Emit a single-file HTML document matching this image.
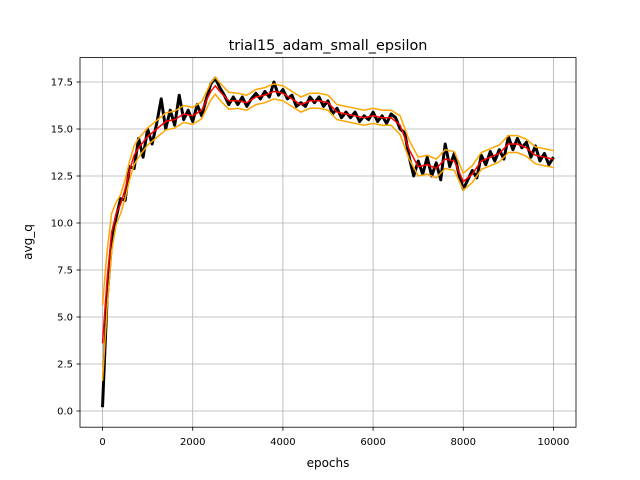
<!DOCTYPE html>
<html><head><meta charset="utf-8"><style>
body{margin:0;background:#fff;}
svg{display:block;font-family:"DejaVu Sans","Liberation Sans",sans-serif;}
</style></head><body>
<svg id="chart" width="640" height="480">
<rect width="640" height="480" fill="#fff"/>
<g id="grid"></g>
<g id="series"></g>
<rect x="80" y="57.6" width="496" height="369.6" fill="none" stroke="#000" stroke-width="0.8"/>
<g id="ticks"></g>
<text x="328" y="50" text-anchor="middle" font-size="14.4">trial15_adam_small_epsilon</text>
<text x="328" y="467" text-anchor="middle" font-size="12">epochs</text>
<text transform="translate(32,242) rotate(-90)" text-anchor="middle" font-size="12">avg_q</text>
</svg>
<script>
const meanEpochs=[0,100,200,300,400,500,600,700,800,1000,1200,1400,1600,1800,2000,2200,2400,2500,2600,2800,3000,3200,3400,3600,3800,4000,4200,4400,4600,4800,5000,5200,5400,5600,5800,6000,6200,6400,6600,6800,7000,7200,7400,7600,7800,8000,8200,8400,8600,8800,9000,9200,9400,9600,9800,10000];
const meanValues=[3.6,7,9.5,10.5,11,11.8,12.8,13.6,14,14.6,15,15.4,15.5,15.8,15.7,16,17,17.3,17,16.5,16.5,16.4,16.7,16.8,17,16.9,16.6,16.3,16.5,16.5,16.4,15.9,15.8,15.7,15.6,15.7,15.6,15.6,15.2,13.9,13,13.1,12.9,13.4,13.3,12.2,12.6,13.3,13.5,13.7,14.2,14.2,14,13.6,13.5,13.4];
const bandWidth=[2,1.5,1,0.6,0.5,0.5,0.5,0.5,0.5,0.45,0.45,0.45,0.45,0.45,0.45,0.45,0.45,0.45,0.45,0.45,0.4,0.4,0.4,0.4,0.4,0.4,0.4,0.4,0.4,0.4,0.4,0.4,0.4,0.4,0.4,0.4,0.4,0.4,0.5,0.5,0.5,0.5,0.5,0.5,0.5,0.45,0.45,0.45,0.45,0.45,0.45,0.45,0.45,0.45,0.45,0.45];
const rawValues=[0.2,6,9,10.3,11.3,11.2,13,12.9,14.5,13.5,15,14.2,15.3,16.6,15,16,15.2,16.8,15.5,16,15.4,16.3,15.7,16.6,17.4,17.7,17.2,16.8,16.3,16.7,16.3,16.7,16.2,16.6,16.9,16.6,17,16.7,17.5,16.8,17.1,16.6,16.8,16.2,16.4,16.2,16.7,16.4,16.7,16.2,16.5,15.8,16.1,15.6,15.9,15.6,15.9,15.4,15.7,15.5,15.9,15.4,15.7,15.3,15.8,15.6,15,14.8,13.5,12.5,13.3,12.6,13.5,12.5,13.2,12.3,14.2,13,13.7,12.6,11.8,12.3,12.8,12.4,13.6,13.1,13.8,13.3,13.9,13.4,14.6,13.9,14.5,14,14.3,13.5,14.1,13.3,13.7,13.1,13.5];
const xTicks=[0,2000,4000,6000,8000,10000];
const yTicks=[0,2.5,5,7.5,10,12.5,15,17.5];
const yTickLabels=["0.0","2.5","5.0","7.5","10.0","12.5","15.0","17.5"];
const NS="http://www.w3.org/2000/svg";
const X=v=>80+(v+500)/11000*496;
const Y=v=>411-v*18.8;
function mk(t,a,p){const e=document.createElementNS(NS,t);for(const k in a)e.setAttribute(k,a[k]);p.appendChild(e);return e;}
const g=document.getElementById('grid'),tk=document.getElementById('ticks'),s=document.getElementById('series');
xTicks.forEach(v=>{
 const l=mk('line',{x1:X(v),x2:X(v),y1:57.6,y2:427.2,stroke:'#b0b0b0','stroke-width':0.8},g);
 
 mk('line',{x1:X(v),x2:X(v),y1:427.2,y2:430.7,stroke:'#000','stroke-width':0.8},tk);
 const t=mk('text',{x:X(v),y:445,'text-anchor':'middle','font-size':10},tk);t.textContent=v;
 
});
yTicks.forEach((v,i)=>{
 const l=mk('line',{x1:80,x2:576,y1:Y(v),y2:Y(v),stroke:'#b0b0b0','stroke-width':0.8},g);
 
 mk('line',{x1:76.5,x2:80,y1:Y(v),y2:Y(v),stroke:'#000','stroke-width':0.8},tk);
 const t=mk('text',{x:73,y:Y(v)+3.5,'text-anchor':'end','font-size':10},tk);t.textContent=yTickLabels[i];
 
});
const pts=(xs,ys)=>xs.map((x,i)=>X(x).toFixed(1)+','+Y(ys[i]).toFixed(1)).join(' ');
const rawX=rawValues.map((_,i)=>i*100);
const raw=mk('polyline',{points:pts(rawX,rawValues),fill:'none',stroke:'#000','stroke-width':3,'stroke-linejoin':'round'},s);

const up=mk('polyline',{points:pts(meanEpochs,meanValues.map((v,i)=>v+bandWidth[i])),fill:'none',stroke:'#ffa500','stroke-width':1.5},s);

const lo=mk('polyline',{points:pts(meanEpochs,meanValues.map((v,i)=>v-bandWidth[i])),fill:'none',stroke:'#ffa500','stroke-width':1.5},s);

const m=mk('polyline',{points:pts(meanEpochs,meanValues),fill:'none',stroke:'#ff0000','stroke-width':1.5},s);

</script>
</body></html>
